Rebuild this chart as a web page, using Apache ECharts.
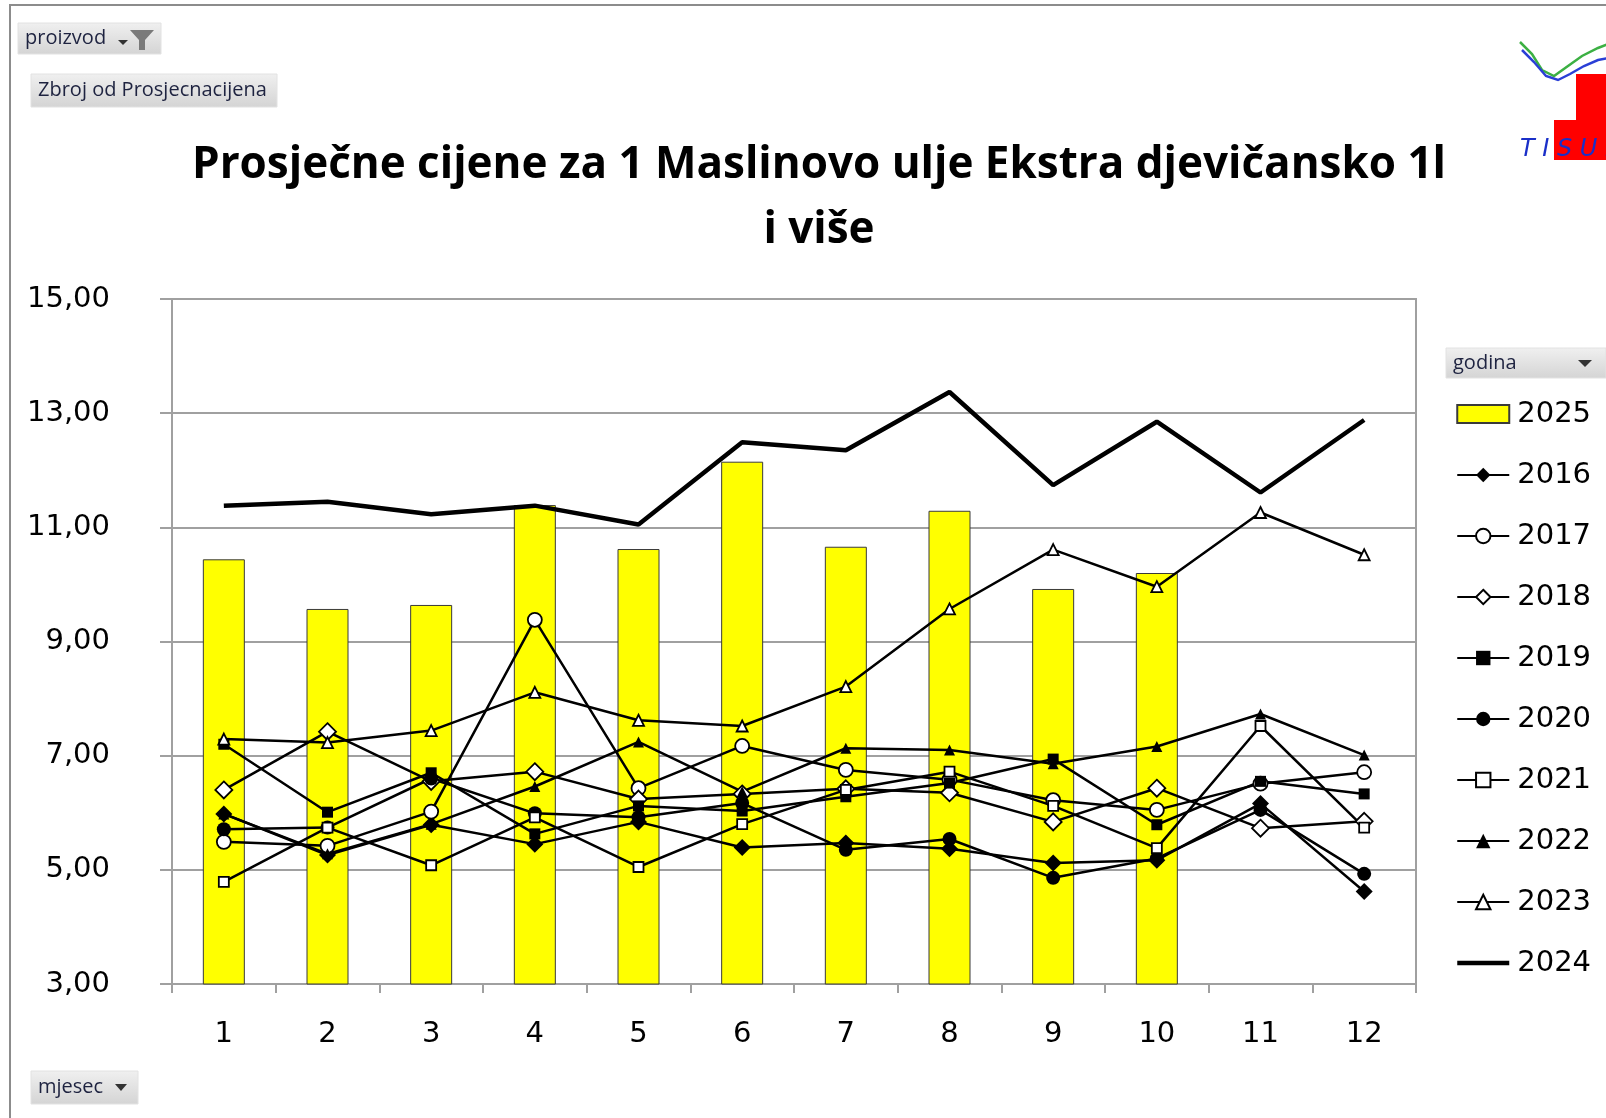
<!DOCTYPE html>
<html>
<head>
<meta charset="utf-8">
<script src="https://cdn.jsdelivr.net/npm/echarts@6/dist/echarts.min.js"></script>
<style>
html,body{margin:0;padding:0;background:#fff;}
#c{width:1606px;height:1118px;}
</style>
</head>
<body>
<div id="c"></div>
<script>
// ---- data ----
var months = ['1','2','3','4','5','6','7','8','9','10','11','12'];
var y2025 = [10.44, 9.57, 9.64, 11.39, 10.62, 12.15, 10.66, 11.29, 9.92, 10.20, null, null];
var y2016 = [5.98, 5.26, 5.79, 5.45, 5.84, 5.39, 5.47, 5.37, 5.12, 5.17, 6.16, 4.62];
var y2017 = [5.49, 5.42, 6.02, 9.38, 6.43, 7.17, 6.75, 6.58, 6.22, 6.05, 6.51, 6.71];
var y2018 = [6.40, 7.42, 6.55, 6.72, 6.24, 6.33, 6.42, 6.35, 5.84, 6.43, 5.73, 5.85];
var y2019 = [7.20, 6.01, 6.70, 5.63, 6.12, 6.03, 6.28, 6.52, 6.94, 5.79, 6.55, 6.33];
var y2020 = [5.71, 5.74, 6.60, 5.99, 5.92, 6.17, 5.35, 5.54, 4.86, 5.20, 6.05, 4.93];
var y2021 = [4.79, 5.74, 5.08, 5.92, 5.05, 5.80, 6.40, 6.72, 6.12, 5.38, 7.52, 5.74];
var y2022 = [5.98, 5.28, 5.80, 6.46, 7.24, 6.37, 7.13, 7.10, 6.86, 7.16, 7.73, 7.01];
var y2023 = [7.29, 7.23, 7.44, 8.11, 7.62, 7.52, 8.21, 9.57, 10.61, 9.96, 11.26, 10.52];
var y2024 = [11.38, 11.45, 11.23, 11.38, 11.05, 12.49, 12.35, 13.37, 11.74, 12.85, 11.61, 12.88];
var legendOrder = ['2025','2016','2017','2018','2019','2020','2021','2022','2023','2024'];
var titleLine1 = 'Prosječne cijene za 1 Maslinovo ulje Ekstra djevičansko 1l';
var titleLine2 = 'i više';

var chart = echarts.init(document.getElementById('c'), null, {renderer:'canvas'});
var NUM_FONT = 'DejaVu Sans';
var TITLE_FONT = 'Open Sans';
var GRID_GRAY = '#a0a0a0';

function lineSeries(name, data, symbol, size, filled, extra) {
  var s = {
    name: name, type: 'line', data: data,
    symbol: symbol, symbolSize: size, showAllSymbol: true,
    lineStyle: {color: '#000', width: 2.5},
    itemStyle: {color: filled ? '#000' : '#fff', borderColor: '#000', borderWidth: filled ? 0 : 1.8},
    emphasis: {disabled: true},
    z: 3
  };
  if (extra) Object.keys(extra).forEach(function(k){ s[k] = extra[k]; });
  return s;
}

function button(x, y, w, h, label, fs, extraChildren) {
  var children = [
    {type:'rect', shape:{x:0, y:0, width:w, height:h},
     style:{fill:new echarts.graphic.LinearGradient(0,0,0,1,[{offset:0,color:'#f0f0f0'},{offset:1,color:'#d4d4d4'}]), stroke:'#e2e2e2', lineWidth:1}},
    {type:'text', x:7, y:h/2, style:{text:label, font:fs+'px "Open Sans"', fill:'#1e2340', textVerticalAlign:'middle', textAlign:'left'}}
  ];
  if (extraChildren) children = children.concat(extraChildren);
  return {type:'group', x:x, y:y, children:children, z:10};
}

var legendData = legendOrder.map(function(n){
  if (n === '2025') return {name: n, icon: 'rect'};
  if (n === '2024') return {name: n, itemStyle: {opacity: 0}, lineStyle: {width: 4.5}};
  return {name: n};
});

var option = {
  animation: false,
  backgroundColor: '#fff',
  title: [
    {text: titleLine1, left: 814, top: 138, textAlign: 'center',
     textStyle: {fontFamily: TITLE_FONT, fontWeight: 'bold', fontSize: 44, color: '#000'}},
    {text: titleLine2, left: 814, top: 203, textAlign: 'center',
     textStyle: {fontFamily: TITLE_FONT, fontWeight: 'bold', fontSize: 44, color: '#000'}}
  ],
  grid: {left: 172, right: 190, top: 299, bottom: 134, show: true, borderColor: GRID_GRAY, borderWidth: 2, backgroundColor: 'transparent'},
  legend: {
    orient: 'vertical', left: 1450, top: 391,
    data: legendData,
    itemWidth: 52, itemHeight: 18, itemGap: 25,
    textStyle: {fontFamily: NUM_FONT, fontSize: 29, color: '#000', lineHeight: 36, padding: [0,0,0,3]},
    selectedMode: false
  },
  xAxis: {
    type: 'category', data: months, boundaryGap: true,
    axisLine: {lineStyle: {color: GRID_GRAY, width: 2}},
    axisTick: {show: true, alignWithLabel: false, length: 9, lineStyle: {color: GRID_GRAY, width: 2}},
    axisLabel: {fontFamily: NUM_FONT, fontSize: 29, color: '#000', margin: 36},
    splitLine: {show: false}
  },
  yAxis: {
    type: 'value', min: 3, max: 15, interval: 2,
    axisLine: {show: true, lineStyle: {color: GRID_GRAY, width: 2}},
    axisTick: {show: true, inside: false, length: 12, lineStyle: {color: GRID_GRAY, width: 2}},
    axisLabel: {fontFamily: NUM_FONT, fontSize: 29, color: '#000', margin: 62,
      formatter: function(v){ return v.toFixed(2).replace('.', ','); }},
    splitLine: {show: true, lineStyle: {color: GRID_GRAY, width: 2}}
  },
  series: [
    {name: '2025', type: 'bar', data: y2025, barWidth: 42,
     itemStyle: {color: '#ffff00', borderColor: '#3a3a3a', borderWidth: 1}, emphasis: {disabled: true}, z: 2},
    lineSeries('2016', y2016, 'diamond', 17, true),
    lineSeries('2017', y2017, 'circle', 14, false),
    lineSeries('2018', y2018, 'diamond', 17, false),
    lineSeries('2019', y2019, 'rect', 11, true),
    lineSeries('2020', y2020, 'circle', 14, true),
    lineSeries('2021', y2021, 'rect', 10, false),
    lineSeries('2022', y2022, 'triangle', 11, true),
    lineSeries('2023', y2023, 'triangle', 11, false),
    lineSeries('2024', y2024, 'none', 0, true, {lineStyle: {color: '#000', width: 4.5}})
  ],
  graphic: [
    {type:'rect', shape:{x:10, y:5, width:1700, height:1300}, style:{fill:'none', stroke:'#8c8c8c', lineWidth:2}, z:0, silent:true},
    button(18, 23, 143, 31, 'proizvod', 20, [
      {type:'polygon', shape:{points:[[100,17],[110,17],[105,22]]}, style:{fill:'#333'}},
      {type:'polygon', shape:{points:[[112,7],[136,7],[127,17],[127,27],[121,27],[121,17]]}, style:{fill:'#7a7a7a'}}
    ]),
    button(31, 74, 246, 33, 'Zbroj od Prosjecnacijena', 20),
    button(31, 1071, 107, 33, 'mjesec', 20, [
      {type:'polygon', shape:{points:[[84,13],[96,13],[90,20]]}, style:{fill:'#333'}}
    ]),
    button(1446, 348, 160, 30, 'godina', 20, [
      {type:'polygon', shape:{points:[[132,12],[146,12],[139,19]]}, style:{fill:'#333'}}
    ]),
    // logo (partial, top-right)
    {type:'group', x:1518, y:36, z:10, children:[
      {type:'rect', shape:{x:58, y:38, width:34, height:46}, style:{fill:'#ff0000'}},
      {type:'rect', shape:{x:36, y:84, width:56, height:40}, style:{fill:'#ff0000'}},
      {type:'polyline', shape:{points:[[2,6],[14,18],[24,34],[36,40],[50,30],[64,20],[80,12],[90,8]]}, style:{stroke:'#3cb043', lineWidth:2.5, fill:'none'}},
      {type:'polyline', shape:{points:[[4,14],[16,26],[28,40],[40,44],[52,38],[66,30],[80,24],[90,22]]}, style:{stroke:'#2a3fd6', lineWidth:2.5, fill:'none'}},
      {type:'text', x:2, y:114, style:{text:'T I S U P', font:'italic 24px "DejaVu Sans"', fill:'#1a2fc8', textVerticalAlign:'middle'}}
    ]}
  ]
};
chart.setOption(option);
</script>
</body>
</html>
